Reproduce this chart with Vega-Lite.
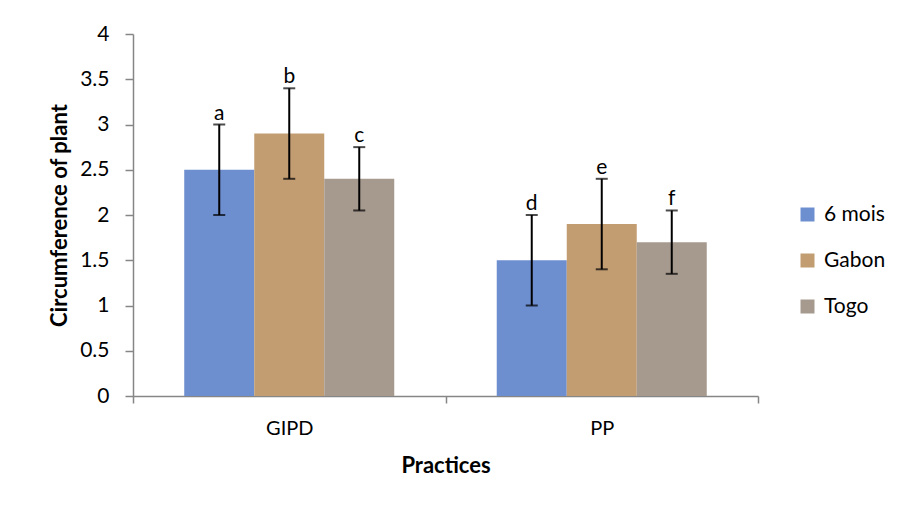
{
  "$schema": "https://vega.github.io/schema/vega-lite/v6.json",
  "width": 625,
  "height": 362,
  "autosize": {"type": "none"},
  "padding": {"left": 133, "top": 34, "right": 143, "bottom": 116},
  "background": "white",
  "config": {
    "font": "Lato",
    "view": {"stroke": null},
    "axis": {"labelFont": "Lato", "titleFont": "Lato", "labelColor": "#000", "titleColor": "#000", "domainColor": "#868686", "tickColor": "#868686", "grid": false}
  },
  "data": {
    "values": [
      {"practice": "GIPD", "group": "6 mois", "mean": 2.5, "low": 2.0, "high": 3.0, "letter": "a"},
      {"practice": "GIPD", "group": "Gabon", "mean": 2.9, "low": 2.4, "high": 3.4, "letter": "b"},
      {"practice": "GIPD", "group": "Togo", "mean": 2.4, "low": 2.05, "high": 2.75, "letter": "c"},
      {"practice": "PP", "group": "6 mois", "mean": 1.5, "low": 1.0, "high": 2.0, "letter": "d"},
      {"practice": "PP", "group": "Gabon", "mean": 1.9, "low": 1.4, "high": 2.4, "letter": "e"},
      {"practice": "PP", "group": "Togo", "mean": 1.7, "low": 1.35, "high": 2.05, "letter": "f"}
    ]
  },
  "encoding": {
    "x": {
      "field": "practice", "type": "nominal",
      "scale": {"paddingInner": 0, "paddingOuter": 0},
      "axis": {"labelAngle": 0, "labelFontSize": 20, "title": "Practices", "titleFontSize": 22, "titleFontWeight": "bold", "tickBand": "extent", "tickSize": 7, "labelPadding": 15, "titlePadding": 17, "domainWidth": 1.5, "tickWidth": 1.5}
    },
    "xOffset": {"field": "group", "type": "nominal", "scale": {"paddingInner": 0, "paddingOuter": 0.732}}
  },
  "layer": [
    {
      "mark": {"type": "bar"},
      "encoding": {
        "y": {
          "field": "mean", "type": "quantitative",
          "scale": {"domain": [0, 4]},
          "axis": {"values": [0, 0.5, 1, 1.5, 2, 2.5, 3, 3.5, 4], "format": "~g", "labelFontSize": 21, "tickSize": 8, "labelPadding": 16, "title": "Circumference of plant", "titleFontSize": 22, "titleFontWeight": "bold", "titlePadding": 8, "domainWidth": 1.5, "tickWidth": 1.5}
        },
        "fill": {
          "field": "group", "type": "nominal",
          "scale": {"domain": ["6 mois", "Gabon", "Togo"], "range": ["#6d8ecf", "#c29d72", "#a69a8f"]},
          "legend": {"title": null, "orient": "none", "legendX": 664, "legendY": 170, "symbolType": "square", "symbolSize": 196, "symbolStrokeWidth": 0, "labelFontSize": 21, "labelFont": "Lato", "labelColor": "#000", "labelOffset": 6, "rowPadding": 24}
        }
      }
    },
    {
      "mark": {"type": "rule", "color": "#000", "strokeWidth": 2},
      "encoding": {
        "y": {"field": "low", "type": "quantitative"},
        "y2": {"field": "high"}
      }
    },
    {
      "mark": {"type": "tick", "color": "#000", "thickness": 2, "size": 12},
      "encoding": {"y": {"field": "low", "type": "quantitative"}}
    },
    {
      "mark": {"type": "tick", "color": "#000", "thickness": 2, "size": 12},
      "encoding": {"y": {"field": "high", "type": "quantitative"}}
    },
    {
      "mark": {"type": "text", "baseline": "bottom", "dy": -1, "fontSize": 21, "font": "Lato", "color": "#000"},
      "encoding": {
        "y": {"field": "high", "type": "quantitative"},
        "text": {"field": "letter"}
      }
    }
  ]
}
